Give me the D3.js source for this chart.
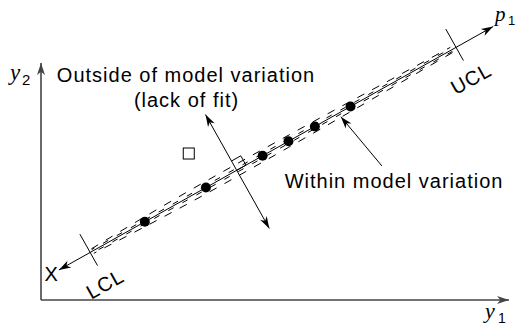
<!DOCTYPE html>
<html>
<head>
<meta charset="utf-8">
<script src="https://cdn.jsdelivr.net/npm/d3@7"></script>
<style>
  body { margin: 0; background: #fff; }
  svg { display: block; }
  .lbl { font-family: "Liberation Sans", Arial, Helvetica, sans-serif; font-size: 20px; letter-spacing: 1px; fill: #000; }
  .var { font-family: "Liberation Serif", "Times New Roman", serif; font-style: italic; fill: #000; }
  .sub { font-family: "Liberation Sans", Arial, sans-serif; fill: #000; }
</style>
</head>
<body>
<div id="chart"></div>
<script>
// scores along the model axis p1 (centre of model = 0) and across it (p2)
var p1AxisRange = [-3.64, 5.25];
var limitNames = ['LCL', 'UCL'];
var limitValues = [-3.0, 4.49];
var obsScores = [-1.88, -0.63, 0.53, 1.06, 1.60, 2.33];
var outlierP1 = -0.6,
    outlierP2 = 0.68;
var p2ArrowRange = [-1.19, 1.14];
// confidence band around p1
var bandP1 = [-2.95, -2, -1, 0, 1, 2, 3, 4.4];
var bandOuter = [0.045, 0.075, 0.095, 0.1, 0.095, 0.085, 0.07, 0.05];
var bandInner = [0.03, 0.03, 0.032, 0.034, 0.034, 0.032, 0.03, 0.03];

var width = 518,
    height = 325;

var svg = d3.select('#chart').append('svg')
  .attr('width', width)
  .attr('height', height);

// y1 / y2 frame
var xScale = d3.scaleLinear().domain([0, 1]).range([41, 509]);
var yScale = d3.scaleLinear().domain([0, 1]).range([300, 63]);

// p1 axis is drawn rotated inside the frame
var theta = 29.27 * Math.PI / 180,
    cosT = Math.cos(theta),
    sinT = Math.sin(theta),
    centre = [236.7, 170.3];
var p1Scale = d3.scaleLinear().domain([0, 1]).range([0, 56]);
var p2Scale = d3.scaleLinear().domain([0, 1]).range([0, 56]);

function pt(a, b) {
  var s = p1Scale(a), t = p2Scale(b);
  return [centre[0] + s * cosT - t * sinT, centre[1] - s * sinT - t * cosT];
}

function arrowHead(g, from, to, len, half, color) {
  var dx = to[0] - from[0], dy = to[1] - from[1];
  var d = Math.sqrt(dx * dx + dy * dy);
  var ux = dx / d, uy = dy / d;
  var bx = to[0] - ux * len, by = to[1] - uy * len;
  var nx = to[0] - ux * len * 0.72, ny = to[1] - uy * len * 0.72;
  g.append('path')
    .attr('d', 'M' + to + 'L' + [bx - uy * half, by + ux * half] + 'L' + [nx, ny] +
      'L' + [bx + uy * half, by - ux * half] + 'Z')
    .attr('fill', color || '#000');
}

function arrow(g, from, to, opts) {
  opts = opts || {};
  g.append('line')
    .attr('x1', from[0]).attr('y1', from[1])
    .attr('x2', to[0]).attr('y2', to[1])
    .attr('stroke', opts.stroke || '#000')
    .attr('stroke-width', opts.strokewidth || 1);
  arrowHead(g, from, to, opts.len || 12, opts.half || 3.8, opts.stroke);
  if (opts.both) arrowHead(g, to, from, opts.len || 12, opts.half || 3.8, opts.stroke);
}

// axes
var axes = svg.append('g');
arrow(axes, [xScale(0), yScale(0)], [xScale(0), yScale(1)], {stroke: '#444', strokewidth: 1.6, len: 12, half: 4});
arrow(axes, [xScale(0), yScale(0)], [xScale(1), yScale(0)], {stroke: '#444', strokewidth: 1.6, len: 12, half: 4});

axes.append('text').attr('class', 'var').attr('x', 10).attr('y', 79.5).style('font-size', '23px').text('y');
axes.append('text').attr('class', 'sub').attr('x', 22).attr('y', 85).style('font-size', '15px').text('2');
axes.append('text').attr('class', 'var').attr('x', 485).attr('y', 318).style('font-size', '22px').text('y');
axes.append('text').attr('class', 'sub').attr('x', 498).attr('y', 323).style('font-size', '14px').text('1');

// confidence band (dashed)
var band = svg.append('g');
var bandLine = d3.line().curve(d3.curveNatural);
[1, -1].forEach(function(side) {
  band.append('path')
    .attr('d', bandLine(bandP1.map(function(p, i) { return pt(p, side * bandOuter[i]); })))
    .attr('fill', 'none').attr('stroke', '#000').attr('stroke-width', 1)
    .attr('stroke-dasharray', '8,9')
    .attr('stroke-dashoffset', side > 0 ? 0 : 5);
  band.append('path')
    .attr('d', bandLine(bandP1.map(function(p, i) { return pt(p, side * bandInner[i]); })))
    .attr('fill', 'none').attr('stroke', '#000').attr('stroke-width', 1)
    .attr('stroke-dasharray', '6,10').attr('stroke-dashoffset', side > 0 ? 3 : 10);
});

// p1 axis, both ends arrowed
var model = svg.append('g');
arrow(model, pt(p1AxisRange[1], 0), pt(p1AxisRange[0], 0), {len: 12, half: 3.8});
arrowHead(model, pt(p1AxisRange[0], 0), pt(p1AxisRange[1], 0), 12, 3.8);

model.append('text').attr('class', 'var')
  .attr('x', 495).attr('y', 21).style('font-size', '21px').text('p');
model.append('text').attr('class', 'sub')
  .attr('x', 508).attr('y', 25).style('font-size', '13px').text('1');

model.append('text').attr('class', 'lbl')
  .attr('x', pt(p1AxisRange[0], 0)[0] - 1)
  .attr('y', pt(p1AxisRange[0], 0)[1] + 11)
  .attr('text-anchor', 'end')
  .style('letter-spacing', '0px')
  .text('X');

// control limits
limitValues.forEach(function(v, i) {
  var a = pt(v, 0.375), b = pt(v, -0.27);
  model.append('line')
    .attr('x1', a[0]).attr('y1', a[1]).attr('x2', b[0]).attr('y2', b[1])
    .attr('stroke', '#000').attr('stroke-width', 1);
  var c = pt(v - 0.04, -0.62);
  model.append('text').attr('class', 'lbl')
    .attr('x', c[0]).attr('y', c[1])
    .attr('text-anchor', 'middle')
    .attr('dominant-baseline', 'central')
    .attr('transform', 'rotate(' + (-29.27) + ',' + c[0] + ',' + c[1] + ')')
    .text(limitNames[i]);
});

// perpendicular (lack of fit) direction
var perp = svg.append('g');
arrow(perp, pt(0, p2ArrowRange[0]), pt(0, p2ArrowRange[1]), {len: 12, half: 3.8, both: true});
var rs = 0.19;
perp.append('path')
  .attr('d', d3.line()([pt(0, 0), pt(rs, 0), pt(rs, rs), pt(0, rs)]))
  .attr('fill', 'none').attr('stroke', '#000').attr('stroke-width', 1);

// observations
svg.append('g').selectAll('circle')
  .data(obsScores)
  .enter().append('circle')
  .attr('cx', function(d) { return pt(d, 0)[0]; })
  .attr('cy', function(d) { return pt(d, 0)[1]; })
  .attr('r', 5)
  .attr('fill', '#000');

// outlying observation
var o = pt(outlierP1, outlierP2);
svg.append('rect')
  .attr('x', o[0] - 5.5).attr('y', o[1] - 5.5)
  .attr('width', 11).attr('height', 11)
  .attr('fill', 'none').attr('stroke', '#000').attr('stroke-width', 1);

// annotations
var anno = svg.append('g');
anno.append('text').attr('class', 'lbl').attr('x', 186).attr('y', 81.7)
  .attr('text-anchor', 'middle').text('Outside of model variation');
anno.append('text').attr('class', 'lbl').attr('x', 186.5).attr('y', 106.5)
  .attr('text-anchor', 'middle').text('(lack of fit)');
anno.append('text').attr('class', 'lbl').attr('x', 394).attr('y', 188.3)
  .attr('text-anchor', 'middle').text('Within model variation');
arrow(anno, pt(2.3, -1.2), pt(2.09, -0.075), {len: 12, half: 3.8});
</script>
</body>
</html>
